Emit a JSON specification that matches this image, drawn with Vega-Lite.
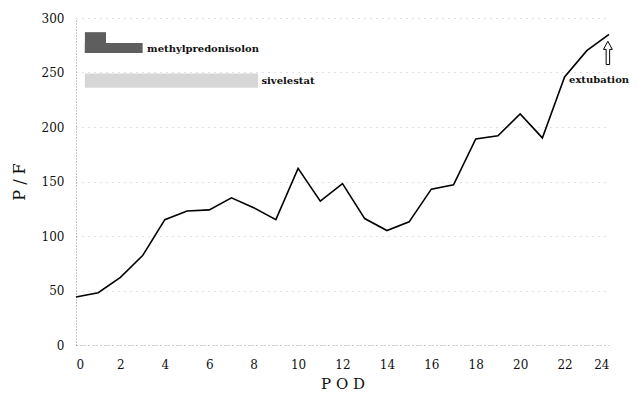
{
  "$schema": "https://vega.github.io/schema/vega-lite/v6.json",
  "autosize": "none",
  "width": 533,
  "height": 327,
  "padding": {"left": 76, "top": 18, "right": 28, "bottom": 57},
  "background": "white",
  "config": {
    "view": {"stroke": null},
    "font": "DejaVu Serif",
    "axis": {"labelFont": "DejaVu Serif", "titleFont": "DejaVu Serif", "labelColor": "#111", "titleColor": "#111"}
  },
  "datasets": {
    "pf": [
      {"pod": 0, "pf": 44}, {"pod": 1, "pf": 48}, {"pod": 2, "pf": 62}, {"pod": 3, "pf": 82},
      {"pod": 4, "pf": 115}, {"pod": 5, "pf": 123}, {"pod": 6, "pf": 124}, {"pod": 7, "pf": 135},
      {"pod": 8, "pf": 126}, {"pod": 9, "pf": 115}, {"pod": 10, "pf": 162}, {"pod": 11, "pf": 132},
      {"pod": 12, "pf": 148}, {"pod": 13, "pf": 116}, {"pod": 14, "pf": 105}, {"pod": 15, "pf": 113},
      {"pod": 16, "pf": 143}, {"pod": 17, "pf": 147}, {"pod": 18, "pf": 189}, {"pod": 19, "pf": 192},
      {"pod": 20, "pf": 212}, {"pod": 21, "pf": 190}, {"pod": 22, "pf": 246}, {"pod": 23, "pf": 270},
      {"pod": 24, "pf": 285}
    ],
    "bars": [
      {"drug": "methylpredonisolon", "x0": 0.4, "x1": 1.35, "y0": 268, "y1": 287, "shade": "dark"},
      {"drug": "methylpredonisolon", "x0": 0.4, "x1": 3.0, "y0": 268, "y1": 277, "shade": "dark"},
      {"drug": "sivelestat", "x0": 0.4, "x1": 8.2, "y0": 236, "y1": 249, "shade": "light"}
    ],
    "labels": [
      {"text": "methylpredonisolon", "x": 3.2, "y": 272},
      {"text": "sivelestat", "x": 8.35, "y": 242},
      {"text": "extubation", "x": 22.2, "y": 243}
    ],
    "arrow": [{"x": 23.95, "y": 268}]
  },
  "layer": [
    {
      "data": {"name": "pf"},
      "mark": {"type": "line", "color": "#000", "strokeWidth": 1.6},
      "encoding": {
        "x": {
          "field": "pod", "type": "quantitative",
          "scale": {"domain": [0, 24], "nice": false},
          "axis": {
            "values": [0, 2, 4, 6, 8, 10, 12, 14, 16, 18, 20, 22, 24],
            "title": "P O D", "titleFontSize": 15, "titleFontWeight": "normal", "titlePadding": 6,
            "labelFontSize": 12, "labelPadding": 14, "ticks": false, "grid": false,
            "domainColor": "#aaa", "domainDash": [1, 3], "domainWidth": 1
          }
        },
        "y": {
          "field": "pf", "type": "quantitative",
          "scale": {"domain": [0, 300], "nice": false},
          "axis": {
            "values": [0, 50, 100, 150, 200, 250, 300],
            "title": "P / F", "titleFontSize": 16, "titleFontWeight": "normal", "titlePadding": 14,
            "labelFontSize": 12, "labelPadding": 12, "ticks": false,
            "grid": true, "gridColor": "#c4c4c4", "gridDash": [1, 5], "gridWidth": 1,
            "domainColor": "#888", "domainDash": [1, 2], "domainWidth": 1
          }
        }
      }
    },
    {
      "data": {"name": "bars"},
      "mark": {"type": "rect"},
      "encoding": {
        "x": {"field": "x0", "type": "quantitative"},
        "x2": {"field": "x1"},
        "y": {"field": "y0", "type": "quantitative"},
        "y2": {"field": "y1"},
        "color": {
          "field": "shade", "type": "nominal",
          "scale": {"domain": ["dark", "light"], "range": ["#5e5e5e", "#d6d6d6"]},
          "legend": null
        }
      }
    },
    {
      "data": {"name": "labels"},
      "mark": {"type": "text", "align": "left", "baseline": "middle", "fontSize": 10, "fontWeight": "bold", "font": "DejaVu Serif", "color": "#111"},
      "encoding": {
        "x": {"field": "x", "type": "quantitative"},
        "y": {"field": "y", "type": "quantitative"},
        "text": {"field": "text"}
      }
    },
    {
      "data": {"name": "arrow"},
      "mark": {
        "type": "point", "filled": false, "color": "#000", "strokeWidth": 1, "fill": "white", "fillOpacity": 1,
        "shape": "M-0.15,1 L-0.15,-0.3 L-0.38,-0.3 L0,-1 L0.38,-0.3 L0.15,-0.3 L0.15,1 Z",
        "size": 540
      },
      "encoding": {
        "x": {"field": "x", "type": "quantitative"},
        "y": {"field": "y", "type": "quantitative"}
      }
    }
  ]
}
